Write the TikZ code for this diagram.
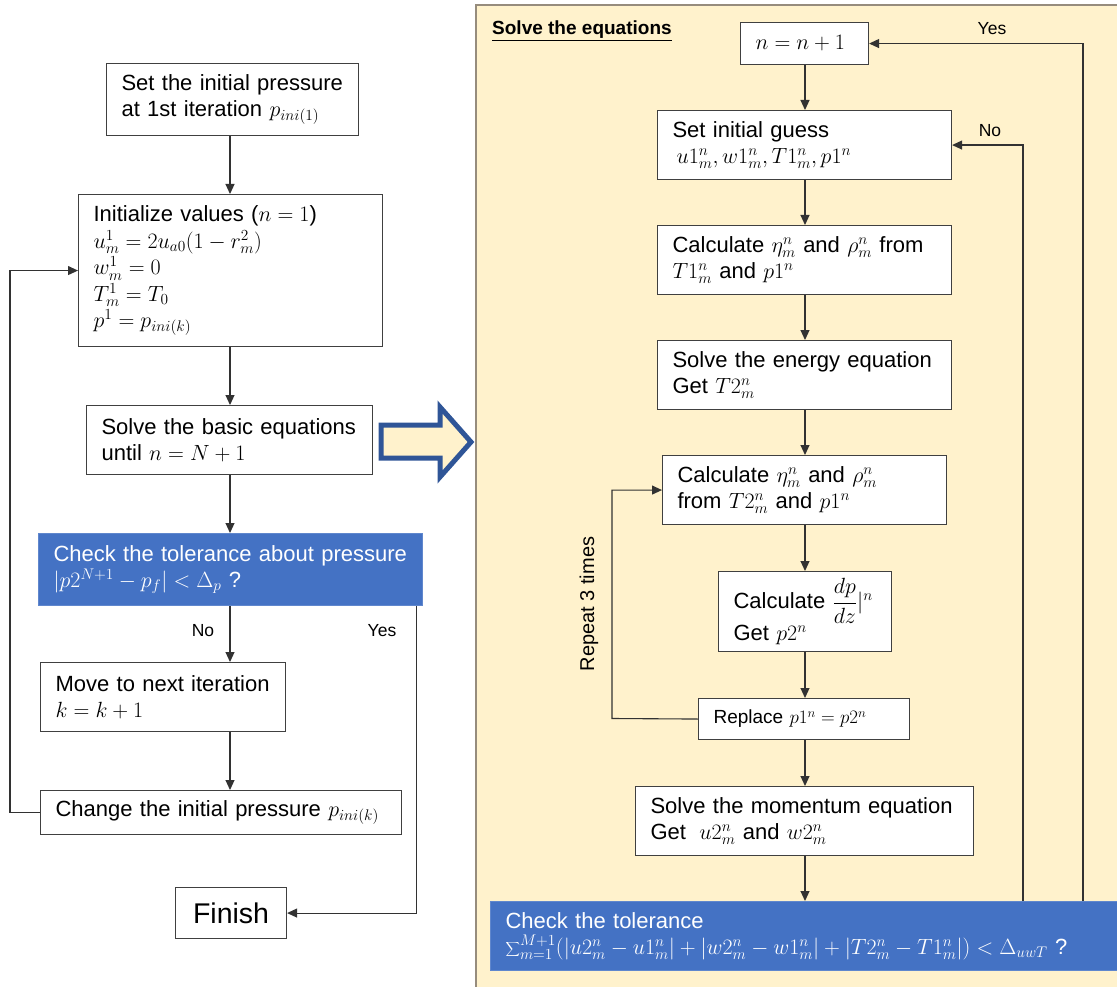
\RequirePackage{fix-cm}
\documentclass[tikz,border=0pt]{standalone}
\usepackage[no-math]{fontspec}
\setmainfont{Liberation Sans}
\usetikzlibrary{arrows.meta}

\definecolor{panelfill}{HTML}{FFF2CC}
\definecolor{panelline}{RGB}{150,140,125}
\definecolor{checkblue}{HTML}{4472C4}
\definecolor{blockblue}{HTML}{2F5597}
\definecolor{boxline}{RGB}{64,64,64}
\definecolor{flowline}{RGB}{50,50,50}

\tikzset{
  box/.style={draw=boxline, line width=1.1pt, fill=white, anchor=north west,
    inner xsep=15pt, inner ysep=0pt, align=left,
    font=\fontsize{22}{26.5}\selectfont},
  checkbox/.style={box, draw=checkblue!85!white, fill=checkblue, text=white},
  flowarrow/.style={draw=flowline, line width=1.1pt,
    -{Triangle[length=10pt,width=9pt]}},
  branchlabel/.style={font=\fontsize{17.5}{20}\selectfont, inner sep=0pt}
}

\begin{document}
\begin{tikzpicture}[x=1pt,y=-1pt]
\useasboundingbox (0,0) rectangle (1117,987);

% shaded panel for the inner solver
\fill[panelfill] (476,5) rectangle (1130,995);
\draw[panelline, line width=1.5pt] (476,995) -- (476,5) -- (1130,5);

% ---------------- outer loop (left column) ----------------
\coordinate (colL) at (230,0);

\node[box, text width=222pt, minimum height=72pt] (ini) at (106,63)
  {Set the initial pressure\\ at 1st iteration $p_{ini(1)}$};

\node[box, text width=274pt, minimum height=152pt] (init) at (78,194)
  {Initialize values ($n=1$)\\
   $u_m^1 = 2u_{a0}(1-r_m^2)$\\
   $w_m^1 = 0$\\
   $T_m^1 = T_0$\\
   $p^1 = p_{ini(k)}$};

\node[box, text width=256pt, minimum height=69pt] (basic) at (86,405)
  {Solve the basic equations\\ until $n = N+1$};

\node[checkbox, text width=354pt, minimum height=72pt] (chkp) at (38,533)
  {Check the tolerance about pressure\\ $\bigl|p2^{N+1} - p_f\bigr| < \Delta_p$ ?};

\node[box, text width=215pt, minimum height=69pt] (mv) at (40,662)
  {Move to next iteration\\ $k = k+1$};

\node[box, text width=331pt, minimum height=44pt] (chg) at (40,790)
  {Change~the~initial~pressure~$p_{ini(k)}$};

\node[box, anchor=north west, inner xsep=0pt, minimum width=111pt,
      minimum height=51pt, align=center, font=\fontsize{28.5}{32}\selectfont]
  (fin) at (175,887) {Finish};

\draw[flowarrow] (colL |- ini.south) -- (colL |- init.north);
\draw[flowarrow] (colL |- init.south) -- (colL |- basic.north);
\draw[flowarrow] (colL |- basic.south) -- (colL |- chkp.north);
\draw[flowarrow] (colL |- chkp.south) -- (colL |- mv.north);
\draw[flowarrow] (colL |- mv.south) -- (colL |- chg.north);
\draw[flowarrow] (chg.west) -- ++(-30,0) |- (init.west);
\draw[flowarrow] ([xshift=-7pt]chkp.south east) |- (fin.east);

\node[branchlabel] (noL) at (203,631) {No};
\node[branchlabel] (yesL) at (382,631) {Yes};

% block arrow pointing into the solver panel
\draw[blockblue, fill=panelfill, line width=5pt, miter limit=10]
  (381,425) -- (440,425) -- (440,407) -- (471,442) -- (440,477)
  -- (440,458) -- (381,458) -- cycle;

% ---------------- inner solver (right panel) ----------------
\node[anchor=base west, inner sep=0pt, font=\fontsize{19}{22}\selectfont\bfseries]
  (title) at (492,35) {\underline{Solve the equations}};

\coordinate (colR) at (805,0);

\node[box, text width=98pt, minimum height=42pt] (nn) at (740,22)
  {$n = n+1$};

\node[box, text width=264pt, minimum height=69pt] (guess) at (657,110)
  {Set initial guess\\ \hspace{4pt}$u1_m^n, w1_m^n, T1_m^n, p1^n$};

\node[box, text width=264pt, minimum height=69pt] (calcA) at (657,225)
  {Calculate $\eta_m^n$ and $\rho_m^n$ from\\ $T1_m^n$ and $p1^n$};

\node[box, text width=264pt, minimum height=69pt] (energy) at (657,340)
  {Solve the energy equation\\ Get $T2_m^n$};

\node[box, text width=254pt, minimum height=69pt] (calcB) at (662,455)
  {Calculate $\eta_m^n$ and $\rho_m^n$\\ from $T2_m^n$ and $p1^n$};

\node[box, text width=143pt, minimum height=80pt,
      font=\fontsize{22}{32}\selectfont] (dpdz) at (718,571)
  {Calculate ${\displaystyle\frac{dp}{dz}}|^n$\\ Get $p2^n$};

\node[box, text width=181pt, minimum height=41pt,
      font=\fontsize{19}{22}\selectfont] (repl) at (698,698)
  {Replace $p1^n = p2^n$};

\node[box, text width=308pt, minimum height=69pt] (mom) at (635,786)
  {Solve the momentum equation\\ Get\; $u2_m^n$ and $w2_m^n$};

\node[checkbox, text width=610pt, minimum height=69pt] (chkr) at (490,901)
  {Check the tolerance\\
   \mbox{${\displaystyle\sum\nolimits_{m=1}^{M+1}}(|u2_m^n - u1_m^n| + |w2_m^n - w1_m^n| + |T2_m^n - T1_m^n|) < \Delta_{uwT}$ ?}};

\draw[flowarrow] (colR |- nn.south) -- (colR |- guess.north);
\draw[flowarrow] (colR |- guess.south) -- (colR |- calcA.north);
\draw[flowarrow] (colR |- calcA.south) -- (colR |- energy.north);
\draw[flowarrow] (colR |- energy.south) -- (colR |- calcB.north);
\draw[flowarrow] (colR |- calcB.south) -- (colR |- dpdz.north);
\draw[flowarrow] (colR |- dpdz.south) -- (colR |- repl.north);
\draw[flowarrow] (colR |- repl.south) -- (colR |- mom.north);
\draw[flowarrow] (colR |- mom.south) -- (colR |- chkr.north);

% inner repeat loop
\draw[flowarrow] (repl.west) -- (612,718.5) |- (calcB.west);
\node[rotate=90, inner sep=0pt, font=\fontsize{20}{24}\selectfont]
  (rep) at (589,604) {Repeat 3 times};

% convergence branches
\coordinate (noR) at (1023,901);
\coordinate (yesR) at (1083,901);
\draw[flowarrow] (noR) |- (guess.east);
\draw[flowarrow] (yesR) |- (nn.east);
\node[branchlabel] (noRlab) at (990,131) {No};
\node[branchlabel] (yesRlab) at (992,29) {Yes};

\end{tikzpicture}
\end{document}
